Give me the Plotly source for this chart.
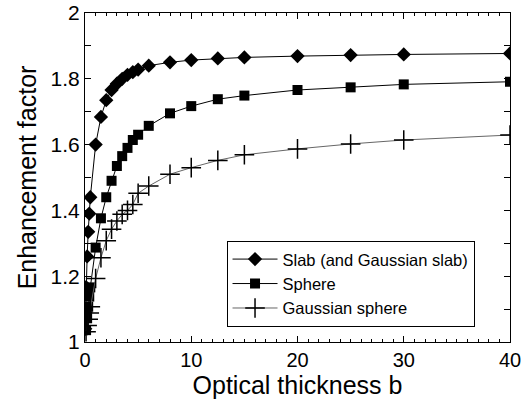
import plotly.graph_objects as go

# Data
slab_b = [0.02, 0.05, 0.1, 0.2, 0.3, 0.4, 0.5, 1, 1.5, 2, 2.5, 3, 3.5, 4, 4.5, 5, 6, 8, 10, 12.5, 15, 20, 25, 30, 40]
slab_y = [1.04, 1.09, 1.167, 1.26, 1.335, 1.39, 1.44, 1.60, 1.684, 1.735, 1.766, 1.785, 1.80, 1.812, 1.82, 1.828,
          1.84, 1.85, 1.857, 1.862, 1.865, 1.869, 1.872, 1.874, 1.877]

sphere_b = [0.1, 0.2, 0.3, 0.4, 0.5, 1, 1.5, 2, 2.5, 3, 3.5, 4, 4.5, 5, 6, 8, 10, 12.5, 15, 20, 25, 30, 40]
sphere_y = [1.036, 1.072, 1.107, 1.138, 1.166, 1.287, 1.376, 1.44, 1.49, 1.535, 1.565, 1.59, 1.614, 1.63,
            1.657, 1.695, 1.717, 1.738, 1.749, 1.766, 1.774, 1.783, 1.791]

gsphere_b = [0.1, 0.2, 0.3, 0.4, 0.5, 1, 1.5, 2, 2.5, 3, 3.5, 4, 4.5, 5, 6, 8, 10, 12.5, 15, 20, 25, 30, 40]
gsphere_y = [1.031, 1.05, 1.069, 1.088, 1.107, 1.193, 1.256, 1.308, 1.343, 1.368, 1.388, 1.40, 1.418, 1.452,
             1.474, 1.51, 1.53, 1.552, 1.569, 1.587, 1.602, 1.614, 1.629]

names = ["Slab (and Gaussian slab)", "Sphere", "Gaussian sphere"]

FONT = "Liberation Sans, Arial, Helvetica, sans-serif"

fig = go.Figure()
fig.add_trace(go.Scatter(x=slab_b, y=slab_y, name=names[0], mode="lines+markers",
                         line=dict(color="black", width=1),
                         marker=dict(symbol="diamond", size=11, color="black")))
fig.add_trace(go.Scatter(x=sphere_b, y=sphere_y, name=names[1], mode="lines+markers",
                         line=dict(color="black", width=1),
                         marker=dict(symbol="square", size=10, color="black")))
fig.add_trace(go.Scatter(x=gsphere_b, y=gsphere_y, name=names[2], mode="lines+markers",
                         line=dict(color="#666666", width=1),
                         marker=dict(symbol="cross-thin", size=14, color="black",
                                     line=dict(color="black", width=1.5))))

fig.update_layout(
    width=522, height=405,
    margin=dict(l=85, r=12, t=13, b=63),
    plot_bgcolor="white", paper_bgcolor="white",
    font=dict(family=FONT, color="black", size=20),
    showlegend=True,
    legend=dict(x=0.333, y=0.046, xanchor="left", yanchor="bottom",
                bordercolor="black", borderwidth=1, bgcolor="white",
                font=dict(size=16.5, family=FONT), tracegroupgap=0,
                itemwidth=45),
)
fig.update_xaxes(range=[0, 40], tickvals=[0, 10, 20, 30, 40], ticks="inside", ticklen=6,
                 tickcolor="black", showline=True, linecolor="black", linewidth=1, mirror="allticks",
                 showgrid=False, zeroline=False, ticklabeloverflow="allow", automargin=False,
                 minor=dict(dtick=1, ticks="inside", ticklen=3, tickcolor="black", showgrid=False),
                 tickfont=dict(size=20),
                 title=dict(text="Optical thickness b", font=dict(size=25), standoff=4))
fig.update_yaxes(range=[1, 2], tickvals=[1, 1.2, 1.4, 1.6, 1.8, 2], ticktext=["1", "1.2", "1.4", "1.6", "1.8", "2"],
                 ticks="inside", ticklen=6, automargin=False,
                 tickcolor="black", showline=True, linecolor="black", linewidth=1, mirror="allticks",
                 showgrid=False, zeroline=False, ticklabeloverflow="allow",
                 minor=dict(dtick=0.1, ticks="inside", ticklen=6, tickcolor="black", showgrid=False),
                 tickfont=dict(size=21),
                 title=dict(text="Enhancement factor", font=dict(size=25), standoff=6))

fig.write_html("out.html")
